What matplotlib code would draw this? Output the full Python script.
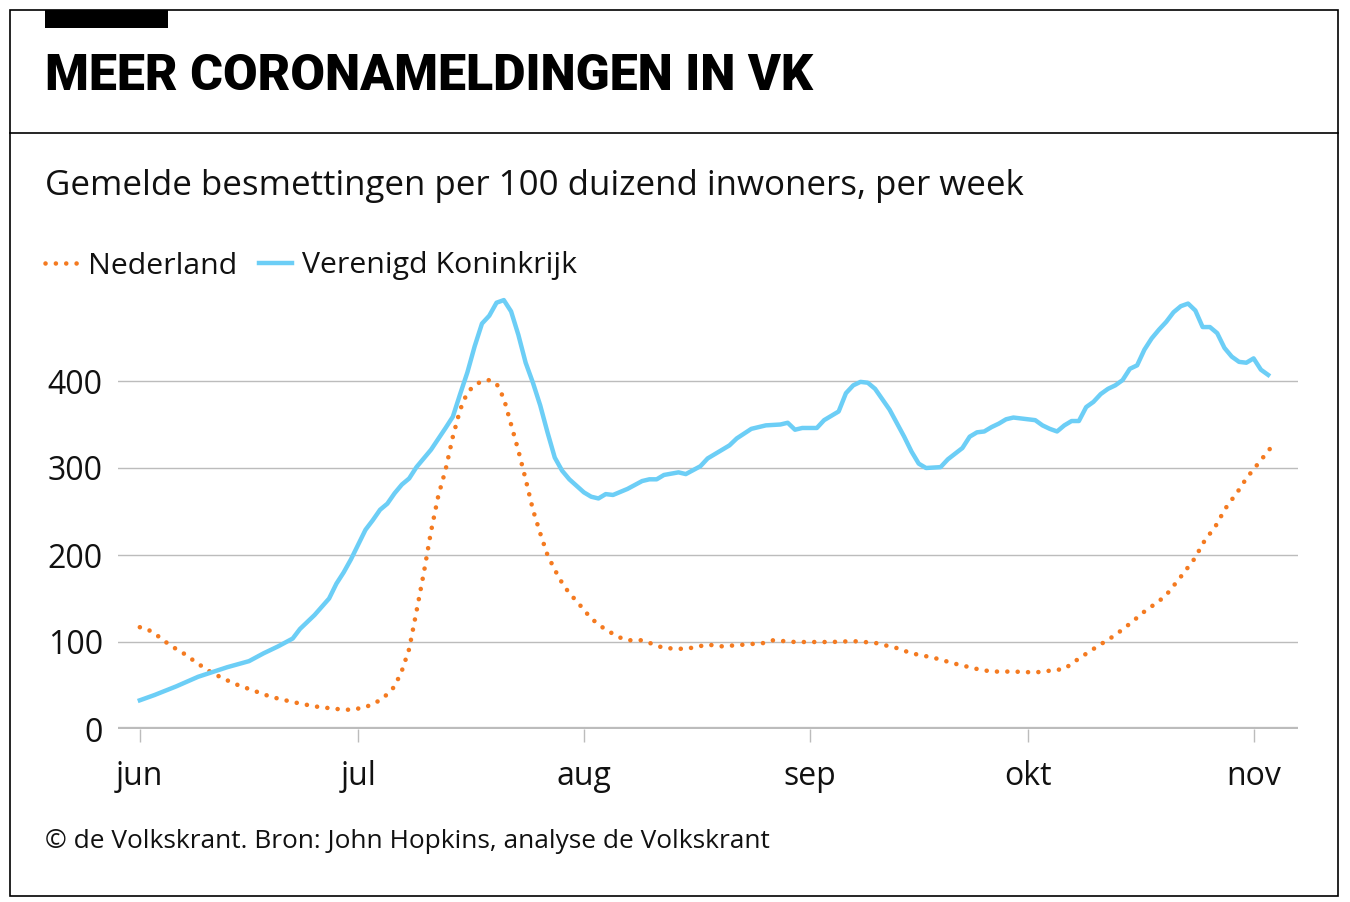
import matplotlib

matplotlib.use("Agg")
import matplotlib.pyplot as plt
from matplotlib.patches import Rectangle
from matplotlib.lines import Line2D
import pandas as pd

START = pd.Timestamp("2020-06-01")

# Verenigd Koninkrijk: days after 1 June, cases per 100k per week
uk_days = [0, 2, 5, 8, 12, 15, 17, 19, 21, 22, 24, 26, 27, 28, 29, 31, 32, 33, 34, 35,
           36, 37, 38, 40, 42, 43, 44, 45, 46, 47, 48, 49, 50, 51, 52, 53, 54, 55, 56, 57,
           58, 59, 61, 62, 63, 64, 65, 67, 69, 70, 71, 72, 74, 75, 77, 78, 80, 81, 82, 84,
           86, 88, 89, 90, 91, 93, 94, 96, 97, 98, 99, 100, 101, 103, 105, 106, 107, 108, 110, 111,
           113, 114, 115, 116, 117, 118, 119, 120, 122, 123, 124, 125, 126, 127, 128, 129, 130, 131, 132, 133,
           134, 135, 136, 137, 138, 139, 140, 141, 142, 143, 144, 145, 146, 147, 148, 149, 150, 151, 152, 153,
           154, 155]
uk_vals = [33, 39, 49, 60, 71, 78, 87, 95, 104, 115, 131, 150, 167, 180, 195, 229, 240, 252, 259, 271,
           281, 288, 301, 321, 346, 359, 385, 410, 440, 466, 475, 490, 493, 480, 453, 421, 398, 372, 341, 312,
           297, 287, 272, 267, 265, 270, 269, 276, 285, 287, 287, 292, 295, 293, 302, 311, 321, 326, 334, 345,
           349, 350, 352, 344, 346, 346, 355, 365, 386, 395, 399, 398, 391, 367, 336, 319, 305, 300, 301, 310,
           323, 336, 341, 342, 347, 351, 356, 358, 356, 355, 349, 345, 342, 349, 354, 354, 370, 376, 385, 391,
           395, 401, 414, 418, 436, 449, 459, 468, 479, 486, 489, 481, 462, 462, 455, 438, 428, 422, 421, 426,
           413, 407]

# Nederland
nl_days = [0, 1, 3, 4, 6, 8, 10, 13, 16, 18, 21, 24, 27, 29, 31, 32, 33, 34, 35, 36,
           37, 38, 39, 40, 41, 42, 43, 44, 45, 46, 47, 48, 49, 50, 51, 52, 53, 54, 55, 56,
           57, 58, 59, 60, 62, 64, 66, 67, 69, 70, 72, 75, 78, 80, 83, 86, 87, 90, 93, 95,
           98, 101, 104, 106, 109, 112, 115, 117, 120, 123, 125, 127, 129, 131, 134, 136, 138, 140, 141, 143,
           145, 146, 148, 149, 151, 152, 154, 156]
nl_vals = [117, 115, 104, 97, 87, 75, 64, 52, 43, 37, 31, 26, 23, 22, 25, 29, 33, 40, 49, 67,
           92, 135, 179, 227, 268, 298, 336, 367, 387, 395, 400, 401, 397, 380, 350, 320, 287, 252, 225, 200,
           183, 168, 156, 147, 127, 114, 105, 102, 102, 99, 93, 92, 97, 95, 97, 99, 102, 100, 100, 100,
           101, 99, 93, 87, 82, 75, 69, 66, 66, 65, 67, 69, 81, 92, 108, 121, 135, 147, 154, 175,
           197, 213, 236, 252, 275, 288, 309, 330]

month_starts = ["2020-06-01", "2020-07-01", "2020-08-01", "2020-09-01", "2020-10-01", "2020-11-01"]
month_labels = ["jun", "jul", "aug", "sep", "okt", "nov"]
y_ticks = [0, 100, 200, 300, 400]

TITLE = "MEER CORONAMELDINGEN IN VK"
SUBTITLE = "Gemelde besmettingen per 100 duizend inwoners, per week"
SOURCE = "\u00a9 de Volkskrant. Bron: John Hopkins, analyse de Volkskrant"

ORANGE = "#f47a20"
BLUE = "#6ccef6"
GRID = "#bcbcbc"
TEXT = "#111111"
W, H = 1350, 902

plt.rcParams["font.family"] = ["Open Sans", "DejaVu Sans"]


def fx(x):
    return x / W


def fy(y):
    return 1 - y / H


def main():
    fig = plt.figure(figsize=(13.5, 9.02), dpi=100)

    # frame and header
    fig.add_artist(Rectangle((fx(10), fy(896)), fx(1328), 886 / H, fill=False,
                             edgecolor="black", linewidth=1.2, transform=fig.transFigure))
    fig.add_artist(Line2D([fx(10), fx(1338)], [fy(133), fy(133)], color="black",
                          linewidth=1.2, transform=fig.transFigure))
    fig.add_artist(Rectangle((fx(45), fy(28)), fx(123), 18 / H, facecolor="black",
                             edgecolor="none", transform=fig.transFigure))
    fig.text(fx(45), fy(77), TITLE, fontsize=36, fontweight="black", va="center",
             ha="left", family=["Roboto", "DejaVu Sans"])
    fig.text(fx(45), fy(186), SUBTITLE, fontsize=25.1, va="center", ha="left", color=TEXT)
    fig.text(fx(45), fy(842), SOURCE, fontsize=18.9, va="center", ha="left", color=TEXT)

    ax = fig.add_axes([fx(118), fy(729), (1298 - 118) / W, 435 / H])
    uk_dates = START + pd.to_timedelta(uk_days, unit="D")
    nl_dates = START + pd.to_timedelta(nl_days, unit="D")

    ax.plot(nl_dates, nl_vals, color=ORANGE, linewidth=3.3,
            linestyle=(0, (0.01, 2.25)), dash_capstyle="round", label="Nederland",
            zorder=3, clip_on=False)
    ax.plot(uk_dates, uk_vals, color=BLUE, linewidth=3.2, solid_joinstyle="round",
            label="Verenigd Koninkrijk", zorder=4, clip_on=False)

    ax.set_xlim(START - pd.Timedelta(days=3.0), START + pd.Timedelta(days=159.1))
    ax.set_ylim(0, 500)

    for v in y_ticks[1:]:
        ax.axhline(v, color=GRID, linewidth=1.0, zorder=1)
    ax.axhline(0, color=GRID, linewidth=3.8, zorder=2)

    ax.set_xticks([pd.Timestamp(m) for m in month_starts])
    ax.set_xticklabels(month_labels)
    ax.set_yticks(y_ticks)
    ax.set_yticklabels([str(v) for v in y_ticks])
    ax.tick_params(axis="x", length=9, width=1.0, color=GRID, pad=13,
                   labelsize=23, labelcolor=TEXT)
    ax.tick_params(axis="y", length=0, pad=11, labelsize=23, labelcolor=TEXT)
    for side in ["top", "right", "left", "bottom"]:
        ax.spines[side].set_visible(False)
    ax.patch.set_alpha(0)

    leg = fig.legend(loc="center left", bbox_to_anchor=(fx(45), fy(266)), ncol=2,
                     frameon=False, handlelength=1.1, handletextpad=0.33,
                     columnspacing=0.7, borderpad=0, borderaxespad=0,
                     prop={"size": 21.8})
    for t in leg.get_texts():
        t.set_color(TEXT)

    fig.savefig("out.png", dpi=100)
    plt.close(fig)


if __name__ == "__main__":
    main()
